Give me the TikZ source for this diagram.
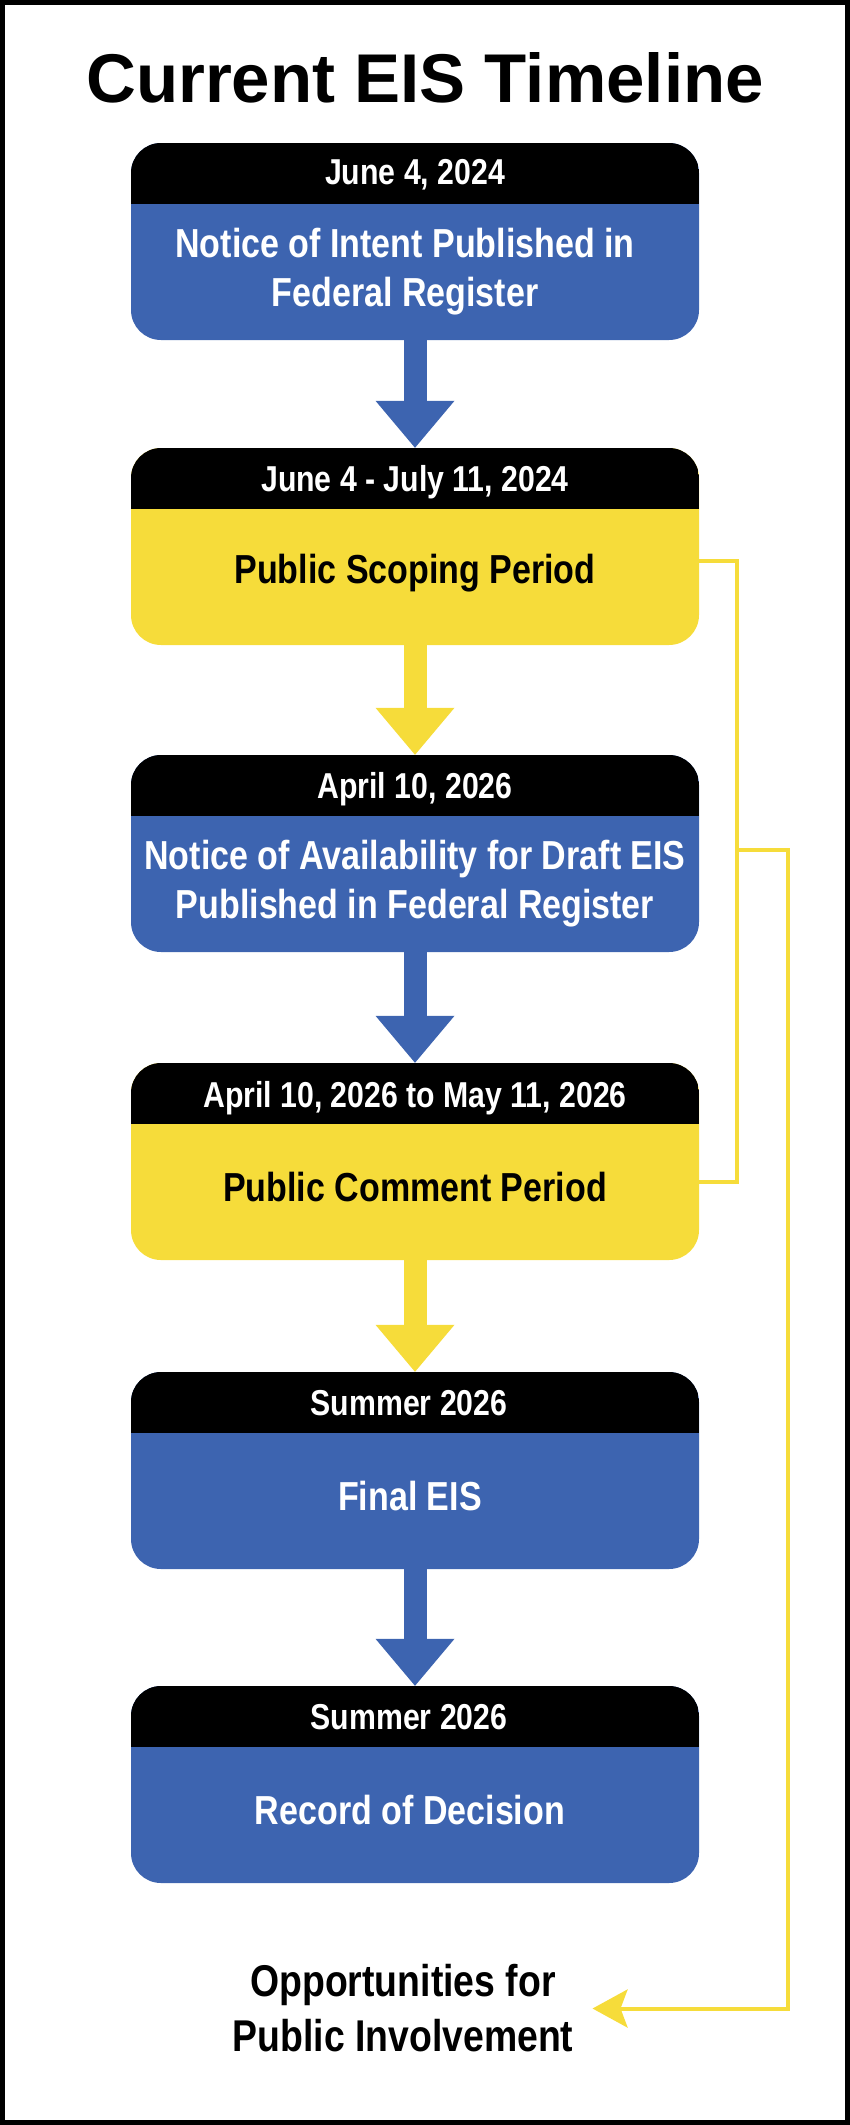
\documentclass[tikz,border=0pt]{standalone}
\usepackage{fontspec}
\setmainfont{Liberation Sans}
\newfontfamily\narrow[FakeStretch=0.84]{Liberation Sans}
\usetikzlibrary{arrows.meta}

\definecolor{eisblue}{RGB}{61,100,176}
\definecolor{eisyellow}{RGB}{246,220,58}

\tikzset{
	stage/.style={rounded corners=30pt, minimum width=568pt, minimum height=197pt, inner sep=0pt,
		path picture={\fill[black, sharp corners] (path picture bounding box.north west) rectangle ([yshift=-61pt]path picture bounding box.north east);}},
	datetxt/.style={text=white, anchor=base, font=\narrow\bfseries\fontsize{36}{40}\selectfont},
	maintxt/.style={align=center, inner sep=0pt, font=\narrow\bfseries\fontsize{40.5}{49.5}\selectfont},
	flow/.style={line width=23pt, -{Triangle[length=47pt, width=79pt, line width=0pt]}},
	link/.style={draw=eisyellow, line width=4pt}
}

\begin{document}
\begin{tikzpicture}[x=1pt, y=-1pt]
	\useasboundingbox (0,0) rectangle (850,2125);
	\draw[line width=5pt] (2.5,2.5) rectangle (847.5,2122.5);
	\node[anchor=base, font=\bfseries\fontsize{69}{80}\selectfont] (title) at (425,102) {Current EIS Timeline};

	% stages
	\node[stage, fill=eisblue] (s1) at (415,241.5) {};
	\node[stage, fill=eisyellow] (s2) at (415,546.5) {};
	\node[stage, fill=eisblue] (s3) at (415,853.5) {};
	\node[stage, fill=eisyellow] (s4) at (415,1161.5) {};
	\node[stage, fill=eisblue] (s5) at (415,1470.5) {};
	\node[stage, fill=eisblue] (s6) at (415,1784.5) {};

	\node[datetxt] (d1) at ([yshift=-42pt]s1.north) {June 4, 2024};
	\node[datetxt] (d2) at ([yshift=-44pt]s2.north) {June 4 - July 11, 2024};
	\node[datetxt] (d3) at ([yshift=-44pt]s3.north) {April 10, 2026};
	\node[datetxt] (d4) at ([yshift=-45pt]s4.north) {April 10, 2026 to May 11, 2026};
	\node[datetxt] (d5) at ([xshift=-6pt, yshift=-44pt]s5.north) {Summer 2026};
	\node[datetxt] (d6) at ([xshift=-6pt, yshift=-44pt]s6.north) {Summer 2026};

	\node[maintxt, text=white] (t1) at ([xshift=-10pt, yshift=-30pt]s1.center) {Notice of Intent Published in\\Federal Register};
	\node[maintxt] (t2) at ([yshift=-27pt]s2.center) {Public Scoping Period};
	\node[maintxt, text=white] (t3) at ([yshift=-30pt]s3.center) {Notice of Availability for Draft EIS\\Published in Federal Register};
	\node[maintxt] (t4) at ([yshift=-26pt]s4.center) {Public Comment Period};
	\node[maintxt, text=white] (t5) at ([xshift=-5pt, yshift=-26pt]s5.center) {Final EIS};
	\node[maintxt, text=white] (t6) at ([xshift=-5pt, yshift=-26pt]s6.center) {Record of Decision};

	% arrows between stages
	\draw[flow, eisblue] (s1.south) -- (s2.north);
	\draw[flow, eisyellow] (s2.south) -- (s3.north);
	\draw[flow, eisblue] (s3.south) -- (s4.north);
	\draw[flow, eisyellow] (s4.south) -- (s5.north);
	\draw[flow, eisblue] (s5.south) -- (s6.north);

	% public involvement
	\node[align=center, inner sep=0pt, font=\narrow\bfseries\fontsize{44.5}{55}\selectfont] (pi) at (403,2008.5) {Opportunities for\\Public Involvement};
	\coordinate (j) at (737,850);
	\coordinate (r) at (788,850);
	\draw[link] ([yshift=-14pt]s2.east) -- ++(38,0) |- ([yshift=-20.5pt]s4.east);
	\draw[link, -{Stealth[length=35pt, width=38pt, inset=7pt]}] (j) -- (r) |- ([xshift=19pt]pi.east);
\end{tikzpicture}
\end{document}
